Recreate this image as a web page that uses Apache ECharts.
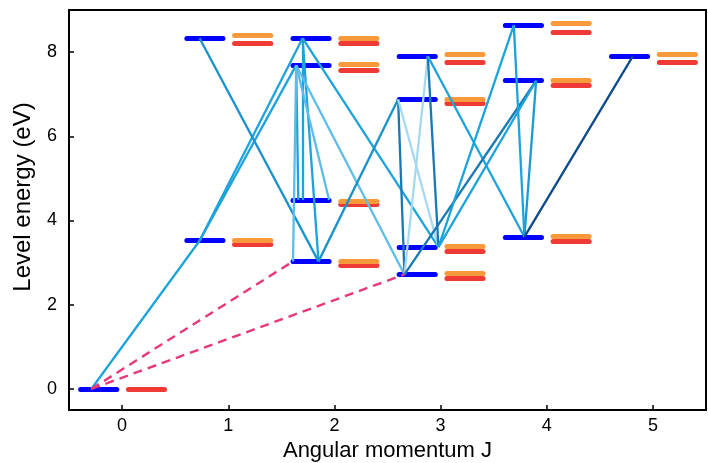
<!DOCTYPE html>
<html>
<head>
<meta charset="utf-8">
<script src="https://cdn.jsdelivr.net/npm/echarts@6/dist/echarts.min.js"></script>
<style>html,body{margin:0;padding:0;background:#fff}#c{width:708px;height:463px}</style>
</head>
<body>
<div id="c"></div>
<script>
// ---- data ----
const tickJ = [0, 1, 2, 3, 4, 5];
const tickE = [0, 2, 4, 6, 8];
// calculated levels (blue): [J, E]
const blueLevels = [[0,0],[1,3.52],[1,8.33],[2,3.03],[2,4.49],[2,7.69],[2,8.33],[3,2.72],[3,3.37],[3,6.88],[3,7.90],[4,3.61],[4,7.32],[4,8.64],[5,7.90]];
// orange levels: [J, E]
const orangeLevels = [[1,3.53],[1,8.39],[2,3.04],[2,4.45],[2,7.71],[2,8.34],[3,2.75],[3,3.40],[3,6.89],[3,7.94],[4,3.63],[4,7.34],[4,8.68],[5,7.95]];
// red levels: [J, E]
const redLevels = [[0,0],[1,3.43],[1,8.21],[2,2.93],[2,4.39],[2,7.57],[2,8.20],[3,2.63],[3,3.26],[3,6.79],[3,7.76],[4,3.50],[4,7.22],[4,8.48],[5,7.75]];
// transitions: [fromJ, fromE, toJ, toE]
const transitions = [
  [-0.29,0, 0.73,3.52],
  [0.73,3.52, 1.70,8.33],
  [0.73,3.52, 1.64,7.69],
  [0.73,8.33, 1.85,3.03],
  [1.70,8.33, 1.85,3.03],
  [1.64,7.69, 1.66,4.49],
  [1.70,8.33, 1.70,4.49],
  [1.64,7.69, 1.61,3.03],
  [1.64,7.69, 1.95,4.49],
  [1.64,7.69, 2.66,2.72],
  [1.70,8.33, 2.98,3.37],
  [1.85,3.03, 2.60,6.88],
  [2.60,6.88, 2.66,2.72],
  [2.60,6.88, 2.98,3.37],
  [2.88,7.90, 2.66,2.72],
  [2.88,7.90, 2.98,3.37],
  [2.88,7.90, 3.79,3.61],
  [2.66,2.72, 3.90,7.32],
  [2.98,3.37, 3.69,8.64],
  [2.98,3.37, 3.90,7.32],
  [3.69,8.64, 3.79,3.61],
  [3.90,7.32, 3.79,3.61],
  [3.79,3.61, 4.81,7.90]
];
// dashed transitions: [fromJ, fromE, toJ, toE]
const dashedTransitions = [
  [-0.29,0, 1.61,3.03],
  [-0.29,0, 2.66,2.72]
];

// ---- styles ----
const C = '#1ca3dc', CD = '#1a92cb', L = '#5dbde8', VL = '#a6d9f1', D = '#1a78b3', N = '#0d4b8b';
const transColors = [C,C,C,CD,C,C,C,L,L,L,C,CD,D,VL,VL,D,C,D,C,C,C,'#1a9bd2',N];
const blueSpan = [-0.39, -0.05];
const sideSpan = [0.06, 0.40];

function bars(levels, span) {
  return levels.map(l => ({ coords: [[l[0] + span[0], l[1]], [l[0] + span[1], l[1]]] }));
}

const font = '"Liberation Sans", Arial, Helvetica, sans-serif';
const chart = echarts.init(document.getElementById('c'), null, { renderer: 'canvas' });
chart.setOption({
  animation: false,
  backgroundColor: '#fff',
  grid: { left: 69, right: 2, top: 10, bottom: 53, outerBoundsMode: 'none', containLabel: false,
          show: true, borderColor: '#000', borderWidth: 2, backgroundColor: 'transparent' },
  xAxis: {
    type: 'value', min: -0.5, max: 5.5,
    name: 'Angular momentum J', nameLocation: 'middle', nameGap: 27,
    nameTextStyle: { fontFamily: font, fontSize: 22, color: '#000' },
    axisLine: { show: true, onZero: false, lineStyle: { color: '#000', width: 2 } },
    axisTick: { show: true, inside: true, length: 5, lineStyle: { color: '#000', width: 1.5 }, customValues: tickJ },
    axisLabel: { fontFamily: font, fontSize: 18, color: '#000', margin: 7, customValues: tickJ },
    splitLine: { show: false }
  },
  yAxis: {
    type: 'value', min: -0.5, max: 9,
    name: 'Level energy (eV)', nameLocation: 'middle', nameGap: 34,
    nameTextStyle: { fontFamily: font, fontSize: 24, color: '#000', padding: [0, 0, 0, 26] },
    axisLine: { show: true, onZero: false, lineStyle: { color: '#000', width: 2 } },
    axisTick: { show: true, inside: true, length: 5, lineStyle: { color: '#000', width: 1.5 }, customValues: tickE },
    axisLabel: { fontFamily: font, fontSize: 18, color: '#000', margin: 12, customValues: tickE },
    splitLine: { show: false }
  },
  series: [
    { type: 'lines', coordinateSystem: 'cartesian2d', z: 2,
      lineStyle: { color: '#0000ff', width: 5, cap: 'round', opacity: 1 },
      data: bars(blueLevels, blueSpan) },
    { type: 'lines', coordinateSystem: 'cartesian2d', z: 2,
      lineStyle: { color: '#ef3a35', width: 5, cap: 'round', opacity: 1 },
      data: bars(redLevels, sideSpan) },
    { type: 'lines', coordinateSystem: 'cartesian2d', z: 3,
      lineStyle: { color: '#f89a3b', width: 5, cap: 'round', opacity: 1 },
      data: bars(orangeLevels, sideSpan) },
    { type: 'lines', coordinateSystem: 'cartesian2d', z: 4,
      lineStyle: { width: 2.3, opacity: 1 },
      data: transitions.map((t, i) => ({ coords: [[t[0], t[1]], [t[2], t[3]]], lineStyle: { color: transColors[i] } })) },
    { type: 'lines', coordinateSystem: 'cartesian2d', z: 5,
      lineStyle: { width: 2.4, color: '#e8387c', type: [9, 6], opacity: 1 },
      data: dashedTransitions.map(t => ({ coords: [[t[0], t[1]], [t[2], t[3]]] })) }
  ]
});
</script>
</body>
</html>
